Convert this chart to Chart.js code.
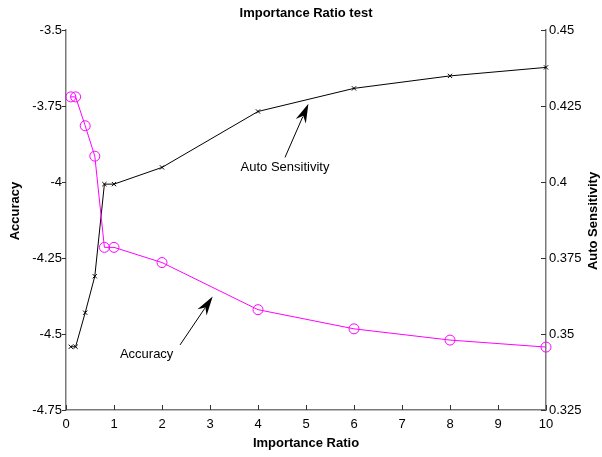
<!DOCTYPE html>
<html>
<head>
<meta charset="utf-8">
<script src="https://cdn.jsdelivr.net/npm/chart.js@4"></script>
<style>
  body { margin: 0; background: #fff; }
  #wrap { width: 602px; height: 457px; }
</style>
</head>
<body>
<div id="wrap"><canvas id="chart" width="602" height="457"></canvas></div>
<script>
const ratios = [0.1, 0.2, 0.4, 0.6, 0.8, 1, 2, 4, 6, 8, 10];
const accuracy = [-3.72, -3.72, -3.815, -3.915, -4.215, -4.215, -4.265, -4.42, -4.483, -4.52, -4.543];
const sensitivity = [0.3458, 0.3458, 0.357, 0.369, 0.3993, 0.3993, 0.4048, 0.4232, 0.4308, 0.4349, 0.4377];

const xTicks = [0, 1, 2, 3, 4, 5, 6, 7, 8, 9, 10];
const accTicks = [-4.75, -4.5, -4.25, -4, -3.75, -3.5];
const sensTicks = [0.325, 0.35, 0.375, 0.4, 0.425, 0.45];

// text notes with arrows, in data units: [label, axis, textX, textY, tailX, tailY, tipX, tipY]
const notes = [
  ["Accuracy", "y", 1.68, -4.566, 2.375, -4.536, 3.056, -4.377],
  ["Auto Sensitivity", "y2", 4.5625, 0.4048, 4.5625, 0.4081, 5.05, 0.4257],
];

const FONT = "'Liberation Sans', Arial, Helvetica, sans-serif";
const AXIS_GRAY = "#7a7a7a";

const toPoints = (xs, ys) => xs.map((x, i) => ({ x: x, y: ys[i] }));

const fixedTicks = (list) => (scale) => {
  scale.ticks = list.map((v) => ({ value: v }));
};

const decor = {
  id: "decor",
  afterDraw(chart) {
    const ctx = chart.ctx;
    const a = chart.chartArea;
    const sx = chart.scales.x, sy = chart.scales.y, sy2 = chart.scales.y2;
    ctx.save();

    // tick marks
    ctx.strokeStyle = "#333";
    ctx.lineWidth = 1;
    ctx.beginPath();
    xTicks.forEach((v) => {
      const px = Math.round(sx.getPixelForValue(v)) + 0.5;
      ctx.moveTo(px, a.bottom); ctx.lineTo(px, a.bottom - 5);
    });
    accTicks.forEach((v) => {
      const py = Math.round(sy.getPixelForValue(v)) + 0.5;
      ctx.moveTo(a.left - 4, py); ctx.lineTo(a.left, py);
    });
    sensTicks.forEach((v) => {
      const py = Math.round(sy2.getPixelForValue(v)) + 0.5;
      ctx.moveTo(a.right - 5, py); ctx.lineTo(a.right, py);
    });
    ctx.stroke();

    // titles
    ctx.fillStyle = "#000";
    ctx.font = "bold 13px " + FONT;
    ctx.textAlign = "center";
    ctx.textBaseline = "middle";
    ctx.fillText("Importance Ratio test", (a.left + a.right) / 2, 13);
    ctx.fillText("Importance Ratio", (a.left + a.right) / 2, 443);

    ctx.save();
    ctx.translate(15, 211);
    ctx.rotate(-Math.PI / 2);
    ctx.fillText("Accuracy", 0, 0);
    ctx.restore();

    ctx.save();
    ctx.translate(593, 221);
    ctx.rotate(-Math.PI / 2);
    ctx.fillText("Auto Sensitivity", 0, 0);
    ctx.restore();

    // notes and arrows
    ctx.font = "13px " + FONT;
    notes.forEach((n) => {
      const ys = chart.scales[n[1]];
      const tx = sx.getPixelForValue(n[2]), ty = ys.getPixelForValue(n[3]);
      const x0 = sx.getPixelForValue(n[4]), y0 = ys.getPixelForValue(n[5]);
      const x1 = sx.getPixelForValue(n[6]), y1 = ys.getPixelForValue(n[7]);
      ctx.fillStyle = "#000";
      ctx.fillText(n[0], tx, ty);

      const ang = Math.atan2(y1 - y0, x1 - x0);
      const len = 17, half = 5.5;
      const c = Math.cos(ang), s = Math.sin(ang);
      const bx = x1 - len * c, by = y1 - len * s;
      const nx = -s, ny = c;
      ctx.strokeStyle = "#000";
      ctx.lineWidth = 1;
      ctx.beginPath();
      ctx.moveTo(x0, y0);
      ctx.lineTo(bx + 3 * c, by + 3 * s);
      ctx.stroke();
      ctx.beginPath();
      ctx.moveTo(x1, y1);
      ctx.lineTo(bx + nx * half - 2 * c, by + ny * half - 2 * s);
      ctx.lineTo(bx + 4 * c, by + 4 * s);
      ctx.lineTo(bx - nx * half - 2 * c, by - ny * half - 2 * s);
      ctx.closePath();
      ctx.fill();
    });

    ctx.restore();
  },
};

new Chart(document.getElementById("chart"), {
  type: "line",
  data: {
    datasets: [
      {
        label: "Accuracy",
        data: toPoints(ratios, accuracy),
        yAxisID: "y",
        borderColor: "#ff00ff",
        borderWidth: 1,
        pointStyle: "circle",
        pointRadius: 5,
        pointBorderColor: "#ff00ff",
        pointBackgroundColor: "rgba(0,0,0,0)",
        pointBorderWidth: 1,
        tension: 0,
        clip: false,
      },
      {
        label: "Auto Sensitivity",
        data: toPoints(ratios, sensitivity),
        yAxisID: "y2",
        borderColor: "#000",
        borderWidth: 1,
        pointStyle: "crossRot",
        pointRadius: 3,
        pointBorderColor: "#000",
        pointBorderWidth: 1,
        tension: 0,
        clip: false,
      },
    ],
  },
  options: {
    responsive: false,
    animation: false,
    events: [],
    layout: { padding: { top: 30, left: 0, right: 0, bottom: 0 } },
    plugins: {
      legend: { display: false },
      title: { display: false },
      tooltip: { enabled: false },
    },
    scales: {
      x: {
        type: "linear",
        min: 0,
        max: 10,
        afterBuildTicks: fixedTicks(xTicks),
        afterFit: (s) => { s.height = 47; },
        grid: { display: false, drawTicks: false },
        border: { display: true, color: AXIS_GRAY, width: 1.5 },
        ticks: { color: "#000", font: { family: FONT, size: 13 }, padding: 7, maxRotation: 0 },
      },
      y: {
        type: "linear",
        position: "left",
        min: -4.75,
        max: -3.5,
        afterBuildTicks: fixedTicks(accTicks),
        afterFit: (s) => { s.width = 66; },
        grid: { display: false, drawTicks: false },
        border: { display: true, color: AXIS_GRAY, width: 1.5 },
        ticks: {
          color: "#000",
          font: { family: FONT, size: 13 },
          padding: 4,
          callback: (v) => String(Number(v.toFixed(3))),
        },
      },
      y2: {
        type: "linear",
        position: "right",
        min: 0.325,
        max: 0.45,
        afterBuildTicks: fixedTicks(sensTicks),
        afterFit: (s) => { s.width = 56; },
        grid: { display: false, drawTicks: false },
        border: { display: true, color: AXIS_GRAY, width: 1.5 },
        ticks: {
          color: "#000",
          font: { family: FONT, size: 13 },
          padding: 3,
          callback: (v) => String(Number(v.toFixed(3))),
        },
      },
    },
  },
  plugins: [decor],
});
</script>
</body>
</html>
